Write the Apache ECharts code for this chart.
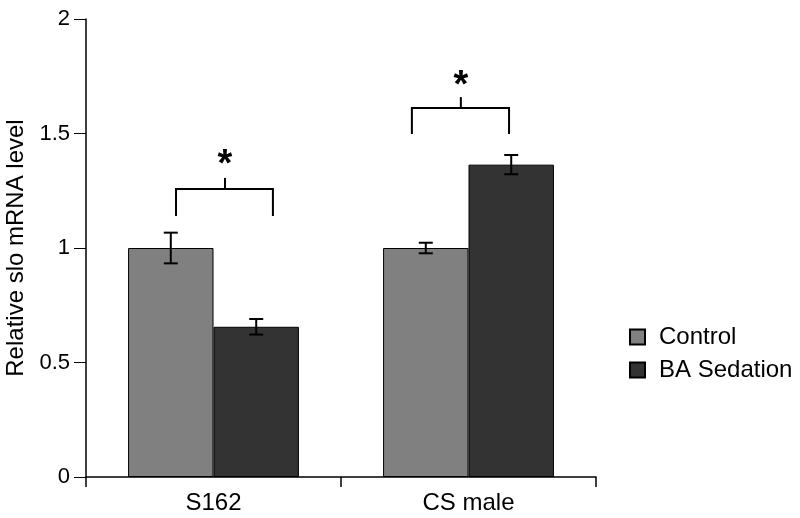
<!DOCTYPE html>
<html>
<head>
<meta charset="utf-8">
<script src="https://cdn.jsdelivr.net/npm/echarts@6/dist/echarts.min.js"></script>
<style>html,body{margin:0;padding:0;background:#fff;}#c{width:800px;height:518px;}</style>
</head>
<body>
<div id="c"></div>
<script>
const categories = ['S162', 'CS male'];
const seriesNames = ['Control', 'BA Sedation'];
const control = [1.0, 1.0];
const controlErr = [0.067, 0.023];
const baSedation = [0.656, 1.364];
const baErr = [0.034, 0.042];
const yTicks = [0, 0.5, 1, 1.5, 2];
// significance brackets (value units)
const bracketLegBottom = [1.14, 1.498];
const bracketBar = [1.258, 1.611];
const bracketTickTop = [1.306, 1.659];
const starLevel = [1.393, 1.742];
const starText = ['*', '*'];

// layout offsets (fraction of category band) for bracket ends and centre tick
const bracketLayout = [
  { l: -0.147, r: 0.233, m: 0.045 },
  { l: -0.222, r: 0.159, m: -0.03 }
];
const barOffsetFrac = 0.1675;

const FONT = 'Liberation Sans, Arial, Helvetica, sans-serif';
const chart = echarts.init(document.getElementById('c'), null, { renderer: 'canvas' });

const errData = [];
control.forEach((v, i) => errData.push([i, v, controlErr[i], 0]));
baSedation.forEach((v, i) => errData.push([i, v, baErr[i], 1]));

const bracketData = categories.map((c, i) => [i, bracketLegBottom[i], bracketBar[i], bracketTickTop[i], starLevel[i]]);

const option = {
  animation: false,
  backgroundColor: '#fff',
  grid: { left: 86, right: 204, top: 19, bottom: 41, containLabel: false, outerBoundsMode: 'none' },
  legend: {
    orient: 'vertical',
    left: 624,
    top: 320,
    icon: 'rect',
    itemWidth: 15,
    itemHeight: 15,
    itemGap: 9,
    data: seriesNames,
    textStyle: { fontFamily: FONT, fontSize: 24, color: '#000', padding: [0, 0, 0, 9] }
  },
  xAxis: {
    type: 'category',
    data: categories,
    axisLine: { lineStyle: { color: '#000', width: 1.5 } },
    axisTick: { show: true, length: 10, inside: false, lineStyle: { color: '#000', width: 1.5 } },
    axisLabel: { fontFamily: FONT, fontSize: 24, color: '#000', margin: 14 },
    splitLine: { show: false }
  },
  yAxis: {
    type: 'value',
    min: yTicks[0],
    max: yTicks[yTicks.length - 1],
    interval: 0.5,
    name: 'Relative slo mRNA level',
    nameLocation: 'middle',
    nameGap: 51,
    nameRotate: 90,
    nameTextStyle: { fontFamily: FONT, fontSize: 24, color: '#000' },
    axisLine: { show: true, lineStyle: { color: '#000', width: 1.5 } },
    axisTick: { show: true, length: 12, lineStyle: { color: '#000', width: 1 } },
    axisLabel: { fontFamily: FONT, fontSize: 22, color: '#000', margin: 16,
      formatter: v => String(v) },
    splitLine: { show: false }
  },
  series: [
    {
      name: seriesNames[0], type: 'bar', data: control,
      barGap: '0%', barCategoryGap: '33%',
      itemStyle: { color: '#808080', borderColor: '#000', borderWidth: 1 }
    },
    {
      name: seriesNames[1], type: 'bar', data: baSedation,
      barGap: '0%', barCategoryGap: '33%',
      itemStyle: { color: '#333333', borderColor: '#000', borderWidth: 1 }
    },
    {
      type: 'custom',
      name: 'err',
      z: 5,
      data: errData,
      encode: { x: 0, y: 1 },
      renderItem: function (params, api) {
        const cat = api.value(0), v = api.value(1), e = api.value(2), s = api.value(3);
        const band = api.size([1, 0])[0];
        const cx = api.coord([cat, v])[0] + (s === 0 ? -1 : 1) * band * barOffsetFrac;
        const hi = api.coord([cat, v + e])[1];
        const lo = api.coord([cat, v - e])[1];
        const hw = 7;
        const st = { stroke: '#000', lineWidth: 2 };
        return { type: 'group', children: [
          { type: 'line', shape: { x1: cx, y1: hi, x2: cx, y2: lo }, style: st },
          { type: 'line', shape: { x1: cx - hw, y1: hi, x2: cx + hw, y2: hi }, style: st },
          { type: 'line', shape: { x1: cx - hw, y1: lo, x2: cx + hw, y2: lo }, style: st }
        ]};
      }
    },
    {
      type: 'custom',
      name: 'sig',
      z: 5,
      data: bracketData,
      encode: { x: 0, y: 2 },
      renderItem: function (params, api) {
        const cat = api.value(0);
        const lay = bracketLayout[params.dataIndex];
        const band = api.size([1, 0])[0];
        const c0 = api.coord([cat, api.value(2)]);
        const cx = c0[0];
        const yb = api.coord([cat, api.value(1)])[1];
        const yt = c0[1];
        const ytick = api.coord([cat, api.value(3)])[1];
        const ystar = api.coord([cat, api.value(4)])[1] + 8;
        const L = cx + lay.l * band, R = cx + lay.r * band, M = cx + lay.m * band;
        const st = { stroke: '#000', lineWidth: 2, fill: null };
        return { type: 'group', children: [
          { type: 'polyline', shape: { points: [[L, yb], [L, yt], [R, yt], [R, yb]] }, style: st },
          { type: 'line', shape: { x1: M, y1: yt, x2: M, y2: ytick }, style: st },
          { type: 'text', x: M, y: ystar, style: { text: starText[params.dataIndex], fontFamily: FONT, fontSize: 38, fontWeight: 'bold', fill: '#000', align: 'center', verticalAlign: 'middle' } }
        ]};
      }
    }
  ]
};
chart.setOption(option);
</script>
</body>
</html>
